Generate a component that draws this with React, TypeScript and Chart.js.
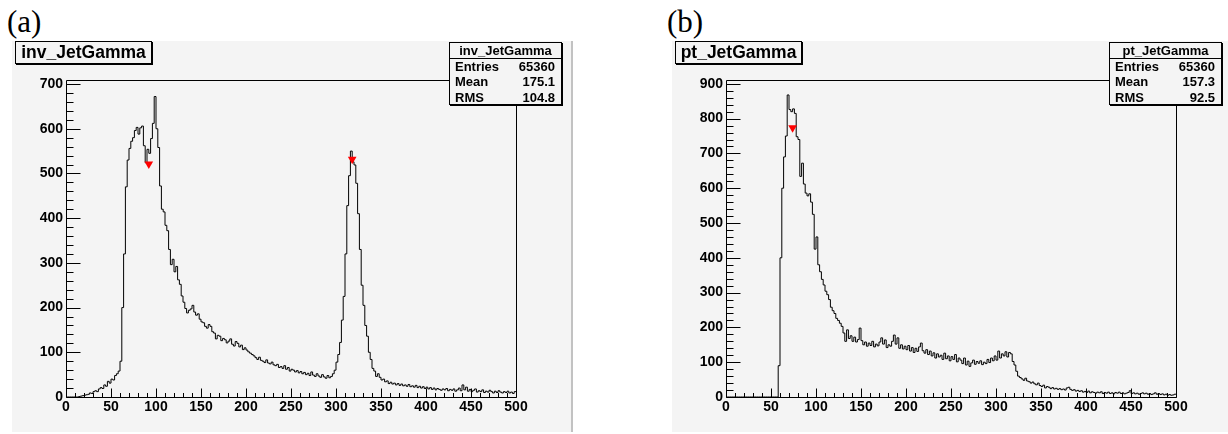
import React, { useEffect, useRef } from 'react';
import { Chart, registerables } from 'chart.js';

Chart.register(...registerables);

// ---------------- data ----------------
const BIN_WIDTH = 2;
const X_MIN = 0;
const X_MAX = 500;
const X_MAJOR = 50;
const X_MINOR = 10;
const Y_MAJOR = 100;
const Y_MINOR = 20;

const xTickValues = [0, 50, 100, 150, 200, 250, 300, 350, 400, 450, 500];
const invYTickValues = [0, 100, 200, 300, 400, 500, 600, 700];
const ptYTickValues = [0, 100, 200, 300, 400, 500, 600, 700, 800, 900];

// inv_JetGamma, bins of 2 starting at 0
const invCounts = [
  0, 0, 0, 0, 0, 0, 0, 1, 2, 3,
  4, 5, 6, 9, 8, 12, 14, 12, 18, 21,
  19, 27, 24, 35, 31, 40, 38, 48, 52, 58,
  80, 200, 320, 470, 530, 556, 572, 580, 596, 603,
  588, 602, 606, 562, 524, 554, 545, 578, 612, 672,
  600, 558, 472, 420, 414, 384, 372, 330, 296, 308,
  280, 292, 262, 252, 226, 212, 198, 188, 194, 197,
  205, 190, 183, 186, 174, 168, 166, 158, 154, 162,
  158, 146, 143, 130, 138, 136, 126, 131, 128, 121,
  125, 130, 118, 114, 124, 120, 112, 116, 106, 110,
  105, 101, 98, 95, 92, 88, 84, 89, 82, 80,
  77, 83, 76, 74, 78, 72, 70, 73, 66, 68,
  64, 70, 62, 66, 58, 62, 60, 56, 59, 54,
  57, 52, 55, 50, 53, 48, 56, 49, 46, 52,
  47, 44, 50, 45, 42, 48, 43, 46, 52, 60,
  78, 95, 122, 172, 225, 320, 428, 495, 550, 526,
  519, 478, 410, 330, 250, 205, 160, 136, 100, 84,
  64, 58, 46, 52, 44, 38, 40, 34, 36, 30,
  33, 29, 31, 27, 30, 26, 29, 25, 27, 24,
  28, 23, 25, 22, 26, 21, 24, 20, 23, 19,
  22, 18, 21, 17, 20, 16, 19, 17, 15, 18,
  16, 19, 14, 17, 15, 18, 13, 16, 20, 14,
  27, 16, 22, 13, 17, 12, 15, 18, 11, 14,
  12, 16, 10, 13, 11, 15, 12, 9, 13, 10,
  14, 11, 9, 12, 10, 13, 9, 11, 8, 12,
];

// pt_JetGamma, bins of 2 starting at 0
const ptCounts = [
  0, 0, 0, 0, 0, 0, 0, 0, 0, 0,
  0, 0, 0, 0, 0, 0, 0, 0, 0, 0,
  0, 0, 0, 0, 0, 0, 0, 0, 0, 90,
  400, 600, 690, 750, 868, 826, 820, 828, 815, 748,
  740, 634, 672, 612, 586, 578, 584, 560, 525, 425,
  460, 380, 360, 338, 322, 304, 294, 280, 258, 248,
  240, 226, 220, 212, 203, 184, 160, 193, 168, 176,
  160, 172, 158, 165, 198, 162, 150, 158, 146, 155,
  148, 160, 144, 152, 147, 158, 170, 152, 164, 142,
  150, 146, 160, 178, 152, 170, 140, 150, 138, 146,
  136, 148, 132, 142, 128, 140, 131, 144, 155, 133,
  126, 136, 122, 132, 118, 127, 112, 124, 115, 120,
  108, 126, 110, 118, 104, 116, 108, 122, 101, 112,
  106, 96, 112, 92, 103, 88, 98, 106, 94, 102,
  97, 104, 93, 100, 96, 108, 99, 112, 104, 118,
  106, 132, 112, 124, 118, 130, 115, 128, 124, 102,
  92, 74, 60, 56, 52, 48, 54, 46, 44, 40,
  43, 38, 35, 40, 33, 30, 34, 26, 30, 28,
  24, 27, 23, 25, 22, 24, 21, 23, 20, 26,
  28, 22, 19, 21, 17, 19, 16, 18, 14, 16,
  13, 17, 12, 15, 13, 11, 14, 12, 15, 10,
  13, 11, 14, 10, 12, 9, 13, 11, 14, 10,
  12, 9, 11, 13, 18, 10, 12, 9, 11, 8,
  10, 12, 9, 11, 8, 10, 7, 9, 12, 8,
  10, 7, 9, 6, 8, 5, 7, 5, 6, 8,
];

const invPeakX = [92, 318];
const invPeakY = [521, 532];
const ptPeakX = [74];
const ptPeakY = [774];

const invYMax = 709;
const ptYMax = 911;

const statLabels = ['Entries', 'Mean', 'RMS'];
const invStatValues = ['65360', '175.1', '104.8'];
const ptStatValues = ['65360', '157.3', '92.5'];

// ---------------- styling ----------------
const PAD_BG = '#f4f4f4';
const SANS = '"Liberation Sans", Arial, Helvetica, sans-serif';

const rootFrame = {
  id: 'rootFrame',
  afterDraw(chart: any) {
    const { ctx, chartArea: a, scales } = chart;
    const xs = scales.x;
    const ys = scales.y;
    const L = Math.round(a.left) + 0.5;
    const R = Math.round(a.right) + 0.5;
    const T = Math.round(a.top) + 0.5;
    const B = Math.round(a.bottom) + 0.5;
    ctx.save();
    ctx.strokeStyle = '#000';
    ctx.lineWidth = 1;
    ctx.beginPath();
    ctx.rect(L, T, R - L, B - T);
    for (let v = 0; v <= ys.max; v += Y_MINOR) {
      const y = Math.round(ys.getPixelForValue(v)) + 0.5;
      const len = v % Y_MAJOR === 0 ? 14 : 7;
      ctx.moveTo(L, y);
      ctx.lineTo(L + len, y);
    }
    for (let v = X_MIN; v <= X_MAX; v += X_MINOR) {
      const x = Math.round(xs.getPixelForValue(v)) + 0.5;
      const len = v % X_MAJOR === 0 ? 9 : 4.5;
      ctx.moveTo(x, B);
      ctx.lineTo(x, B - len);
    }
    ctx.stroke();
    ctx.restore();
  },
};

type PanelProps = {
  left: number;
  letter: string;
  name: string;
  titleWidth: number;
  counts: number[];
  peakX: number[];
  peakY: number[];
  yMax: number;
  yTicks: number[];
  statValues: string[];
};

function HistPanel(p: PanelProps) {
  const ref = useRef<HTMLCanvasElement>(null);
  useEffect(() => {
    const points = p.counts.map((v, i) => ({ x: X_MIN + i * BIN_WIDTH, y: v }));
    points.push({ x: X_MAX, y: p.counts[p.counts.length - 1] });
    const peaks = p.peakX.map((x, i) => ({ x, y: p.peakY[i] }));
    const tickFont = { family: 'Liberation Sans', size: 14, weight: 700 };
    const chart = new Chart(ref.current as HTMLCanvasElement, {
      type: 'line',
      data: {
        datasets: [
          {
            data: points,
            stepped: 'before',
            borderColor: '#000',
            borderWidth: 1,
            pointRadius: 0,
            fill: false,
            order: 2,
          } as any,
          {
            type: 'scatter',
            data: peaks,
            pointStyle: 'triangle',
            rotation: 180,
            pointRadius: 5,
            backgroundColor: '#ff0000',
            borderColor: '#ff0000',
            borderWidth: 0,
            showLine: false,
            order: 1,
          } as any,
        ],
      },
      options: {
        animation: false,
        responsive: false,
        maintainAspectRatio: false,
        events: [],
        layout: { padding: { left: 0, right: 56, top: 39, bottom: 0 } },
        plugins: { legend: { display: false }, tooltip: { enabled: false }, title: { display: false } },
        scales: {
          x: {
            type: 'linear',
            min: X_MIN,
            max: X_MAX,
            grid: { display: false, drawTicks: false },
            border: { display: false },
            ticks: {
              autoSkip: false,
              maxRotation: 0,
              padding: 2,
              color: '#000',
              font: tickFont,
            },
            afterBuildTicks: (s: any) => {
              s.ticks = xTickValues.map((v) => ({ value: v }));
            },
            afterFit: (s: any) => {
              s.height = 35;
            },
          },
          y: {
            type: 'linear',
            min: 0,
            max: p.yMax,
            grid: { display: false, drawTicks: false },
            border: { display: false },
            ticks: {
              autoSkip: false,
              padding: 3,
              color: '#000',
              font: tickFont,
            },
            afterBuildTicks: (s: any) => {
              s.ticks = p.yTicks.map((v) => ({ value: v }));
            },
            afterFit: (s: any) => {
              s.width = 54;
            },
          },
        },
      } as any,
      plugins: [rootFrame],
    });
    return () => chart.destroy();
  }, []);

  const L = p.left;
  return (
    <>
      <div
        style={{
          position: 'absolute',
          left: L - 5,
          top: 6,
          fontFamily: '"Liberation Serif", "Times New Roman", serif',
          fontSize: 31,
          lineHeight: '31px',
          color: '#000',
          whiteSpace: 'nowrap',
        }}
      >
        {p.letter}
      </div>
      <canvas
        ref={ref}
        width={560}
        height={391}
        style={{ position: 'absolute', left: L, top: 41, width: 560, height: 391, background: PAD_BG }}
      />
      <div style={{ position: 'absolute', left: L + 559, top: 41, width: 2, height: 391, background: '#c2c2c2' }} />
      <div
        style={{
          position: 'absolute',
          left: L + 3,
          top: 41,
          width: p.titleWidth,
          height: 23,
          boxSizing: 'border-box',
          border: '1px solid #000',
          boxShadow: '1px 1px 0 #000',
          background: PAD_BG,
          display: 'flex',
          alignItems: 'center',
          justifyContent: 'center',
          fontFamily: SANS,
          fontWeight: 'bold',
          fontSize: 17.5,
          color: '#000',
          whiteSpace: 'nowrap',
        }}
      >
        {p.name}
      </div>
      <div
        style={{
          position: 'absolute',
          left: L + 437,
          top: 42,
          width: 113,
          height: 63,
          boxSizing: 'border-box',
          border: '1px solid #000',
          boxShadow: '1px 1px 0 #000',
          background: PAD_BG,
          fontFamily: SANS,
          fontWeight: 'bold',
          fontSize: 13,
          color: '#000',
          whiteSpace: 'nowrap',
        }}
      >
        <div
          style={{
            height: 16,
            boxSizing: 'border-box',
            borderBottom: '1px solid #000',
            display: 'flex',
            alignItems: 'center',
            justifyContent: 'center',
          }}
        >
          {p.name}
        </div>
        {statLabels.map((lab, i) => (
          <div
            key={lab}
            style={{
              height: 15.3,
              display: 'flex',
              alignItems: 'center',
              justifyContent: 'space-between',
              padding: '0 6px 0 5px',
            }}
          >
            <span>{lab}</span>
            <span>{p.statValues[i]}</span>
          </div>
        ))}
      </div>
    </>
  );
}

export default function App() {
  return (
    <div
      style={{
        position: 'absolute',
        left: 0,
        top: 0,
        width: 1228,
        height: 434,
        overflow: 'hidden',
        background: '#fff',
      }}
    >
      <HistPanel
        left={12}
        letter="(a)"
        name="inv_JetGamma"
        titleWidth={137}
        counts={invCounts}
        peakX={invPeakX}
        peakY={invPeakY}
        yMax={invYMax}
        yTicks={invYTickValues}
        statValues={invStatValues}
      />
      <HistPanel
        left={672}
        letter="(b)"
        name="pt_JetGamma"
        titleWidth={127}
        counts={ptCounts}
        peakX={ptPeakX}
        peakY={ptPeakY}
        yMax={ptYMax}
        yTicks={ptYTickValues}
        statValues={ptStatValues}
      />
    </div>
  );
}
